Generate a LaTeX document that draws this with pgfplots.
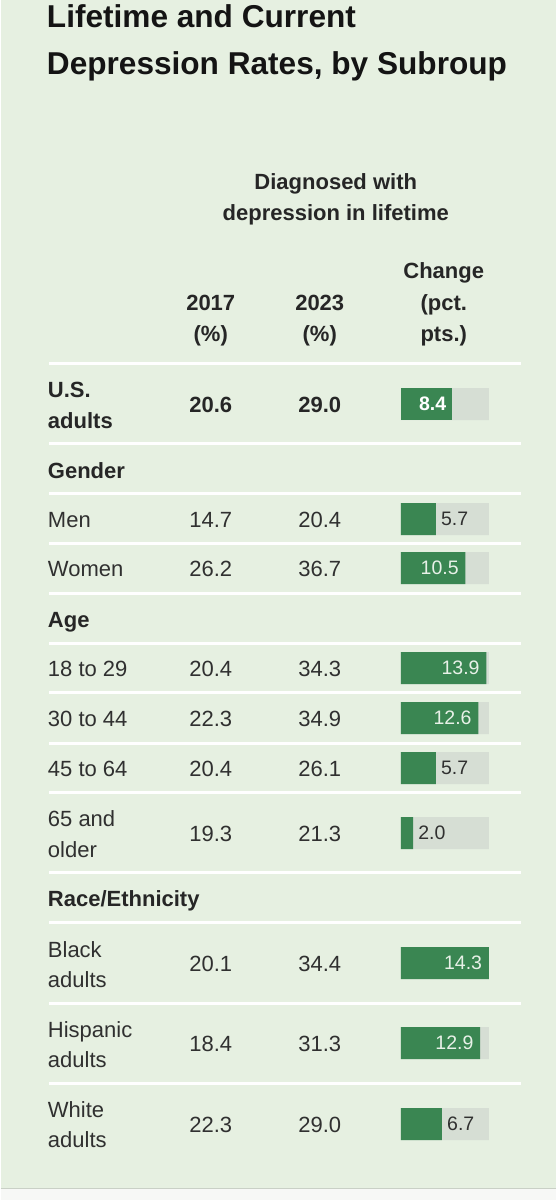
\documentclass[border=0pt]{standalone}
\usepackage{fontspec}
\setmainfont{Liberation Sans}
\usepackage{pgfplots}
\usepackage{pgfplotstable}
\pgfplotsset{compat=1.18}

\definecolor{bg}{HTML}{E6F0E1}
\definecolor{foot}{HTML}{F7F8F6}
\definecolor{footline}{HTML}{C9D0C6}
\definecolor{barg}{HTML}{3A8652}
\definecolor{track}{HTML}{D6DED4}
\definecolor{ink}{HTML}{303030}
\definecolor{head}{HTML}{262626}
\definecolor{insidelbl}{HTML}{E8F1E8}

% change in pct. pts., y = row centre (px from top)
\pgfplotstableread{
y     v
404   14.3
519   14.3
568   14.3
668   14.3
718   14.3
768   14.3
833   14.3
963   14.3
1043  14.3
1124  14.3
}\tracktbl
\pgfplotstableread{
y     v
404   8.4
}\boldtbl
\pgfplotstableread{
y     v
568   10.5
668   13.9
718   12.6
963   14.3
1043  12.9
}\intbl
\pgfplotstableread{
y     v
519   5.7
768   5.7
833   2.0
1124  6.7
}\outtbl

\newcommand\rowfont{\fontsize{22}{31}\selectfont}
\newcommand\lbl[2]{\node[anchor=base west, inner sep=0pt, font=\rowfont, text=ink] at (axis cs:47,#1) {#2};}
\newcommand\hdr[2]{\node[anchor=base west, inner sep=0pt, font=\rowfont\bfseries, text=head] at (axis cs:47,#1) {#2};}
\newcommand\val[3]{\node[anchor=base, inner sep=0pt, font=\rowfont, text=ink] at (axis cs:#1,#2) {#3};}
\newcommand\bval[3]{\node[anchor=base, inner sep=0pt, font=\rowfont\bfseries, text=head] at (axis cs:#1,#2) {#3};}
\newcommand\sep[1]{\draw[white, line width=3pt] (axis cs:48,#1) -- (axis cs:520,#1);}

\begin{document}
\begin{tikzpicture}
\begin{axis}[
    scale only axis,
    width=555pt, height=1200pt,
    xmin=0, xmax=555, ymin=0, ymax=1200,
    y dir=reverse,
    hide axis,
    clip=false,
]
\fill[bg] (axis cs:0,0) rectangle (axis cs:555,1188);
\fill[foot] (axis cs:0,1188) rectangle (axis cs:555,1200);
\draw[footline, line width=1.5pt] (axis cs:0,1188.5) -- (axis cs:555,1188.5);

% row separators
\sep{363} \sep{443} \sep{493} \sep{543} \sep{593} \sep{643} \sep{692.5}
\sep{743} \sep{792.5} \sep{872.5} \sep{922.5} \sep{1003} \sep{1083}

% title
\node[anchor=base west, inner sep=0pt, font=\fontsize{31.6}{46}\selectfont\bfseries, text=black!92] at (axis cs:46,27) {Lifetime and Current};
\node[anchor=base west, inner sep=0pt, font=\fontsize{31.6}{46}\selectfont\bfseries, text=black!92] at (axis cs:46,74) {Depression Rates, by Subroup};

% column heads
\bval{335}{189}{Diagnosed with}
\bval{335}{220}{depression in lifetime}
\bval{443}{278}{Change}
\bval{443}{310}{(pct.}
\bval{443}{341}{pts.)}
\bval{210}{310}{2017}
\bval{210}{341}{(\%)}
\bval{319}{310}{2023}
\bval{319}{341}{(\%)}

% U.S. adults
\hdr{397}{U.S.}
\hdr{428}{adults}
\bval{210}{412}{20.6}
\bval{319}{412}{29.0}

% Gender
\hdr{478}{Gender}
\lbl{527}{Men}    \val{210}{527}{14.7} \val{319}{527}{20.4}
\lbl{576}{Women}  \val{210}{576}{26.2} \val{319}{576}{36.7}

% Age
\hdr{627}{Age}
\lbl{676}{18 to 29} \val{210}{676}{20.4} \val{319}{676}{34.3}
\lbl{726}{30 to 44} \val{210}{726}{22.3} \val{319}{726}{34.9}
\lbl{776}{45 to 64} \val{210}{776}{20.4} \val{319}{776}{26.1}
\lbl{826}{65 and}   \lbl{857}{older}
\val{210}{841}{19.3} \val{319}{841}{21.3}

% Race/Ethnicity
\hdr{906}{Race/Ethnicity}
\lbl{957}{Black}    \lbl{987}{adults}
\val{210}{971}{20.1} \val{319}{971}{34.4}
\lbl{1037}{Hispanic} \lbl{1067}{adults}
\val{210}{1051}{18.4} \val{319}{1051}{31.3}
\lbl{1117}{White}   \lbl{1147}{adults}
\val{210}{1132}{22.3} \val{319}{1132}{29.0}
\end{axis}

\begin{axis}[
    scale only axis,
    at={(400pt,0pt)}, anchor=south west,
    width=88pt, height=1200pt,
    xmin=0, xmax=14.3, ymin=0, ymax=1200,
    y dir=reverse,
    hide axis,
    clip=false,
    xbar, bar width=32pt, bar shift=0pt,
    point meta=x,
]
\addplot[fill=track, draw=none] table[x=v, y=y] {\tracktbl};
\addplot[fill=barg, draw=none,
    nodes near coords={\pgfmathprintnumber[fixed,fixed zerofill,precision=1,assume math mode=true]{\pgfplotspointmeta}},
    every node near coord/.append style={anchor=east, inner sep=6pt, text=white, font=\fontsize{19.5}{20}\selectfont\bfseries},
] table[x=v, y=y] {\boldtbl};
\addplot[fill=barg, draw=none,
    nodes near coords={\pgfmathprintnumber[fixed,fixed zerofill,precision=1,assume math mode=true]{\pgfplotspointmeta}},
    every node near coord/.append style={anchor=east, inner sep=6.5pt, text=insidelbl, font=\fontsize{19.5}{20}\selectfont},
] table[x=v, y=y] {\intbl};
\addplot[fill=barg, draw=none,
    nodes near coords={\pgfmathprintnumber[fixed,fixed zerofill,precision=1,assume math mode=true]{\pgfplotspointmeta}},
    every node near coord/.append style={anchor=west, inner sep=5pt, text=ink, font=\fontsize{19.5}{20}\selectfont},
] table[x=v, y=y] {\outtbl};
\end{axis}
\end{tikzpicture}
\end{document}
